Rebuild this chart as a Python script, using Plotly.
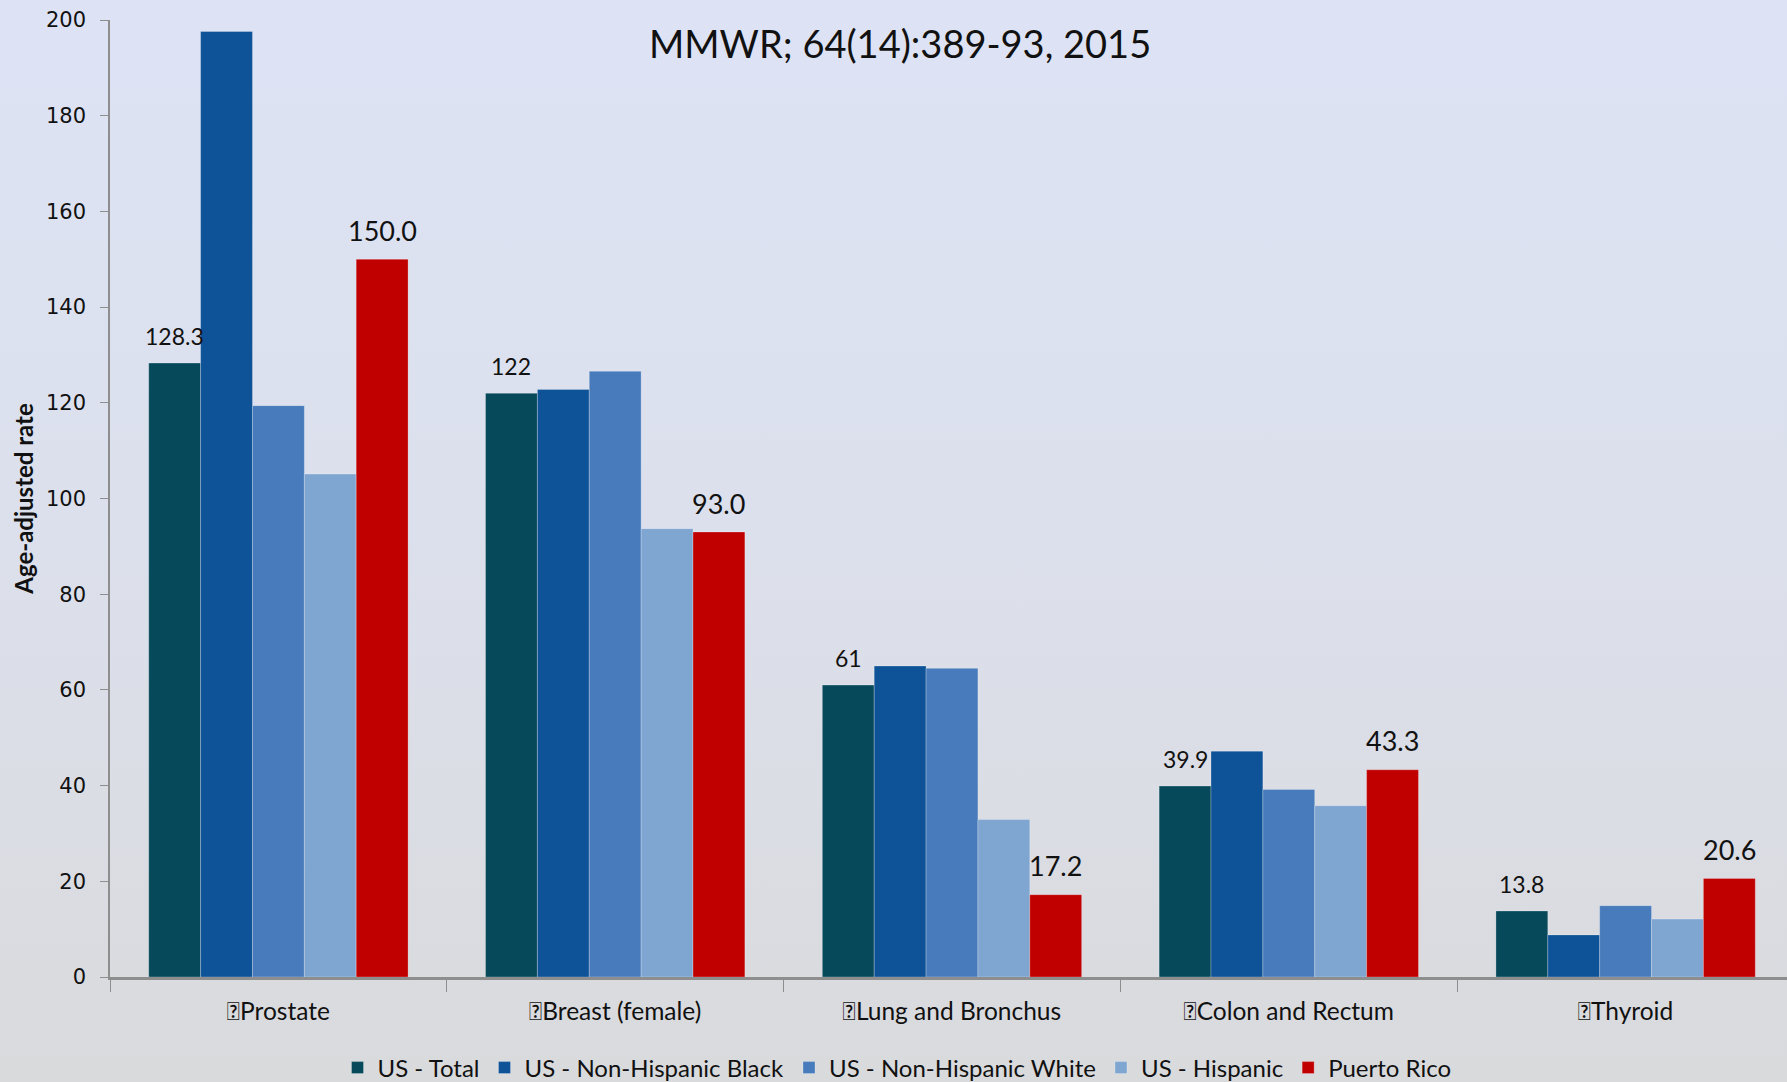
import base64
import plotly.graph_objects as go

# ---------------- data ----------------
categories = ["\uf0a7Prostate", "\uf0a7Breast (female)", "\uf0a7Lung and Bronchus",
              "\uf0a7Colon and Rectum", "\uf0a7Thyroid"]
us_total = [128.3, 122.0, 61.0, 39.9, 13.8]
us_nh_black = [197.6, 122.8, 65.0, 47.2, 8.8]
us_nh_white = [119.4, 126.6, 64.5, 39.2, 14.9]
us_hispanic = [105.1, 93.7, 32.9, 35.8, 12.1]
puerto_rico = [150.0, 93.0, 17.2, 43.3, 20.6]
total_labels = ["128.3", "122", "61", "39.9", "13.8"]
pr_labels = ["150.0", "93.0", "17.2", "43.3", "20.6"]
series_names = ["US - Total", "US - Non-Hispanic Black", "US - Non-Hispanic White",
                "US - Hispanic", "Puerto Rico"]
y_ticks = [0, 20, 40, 60, 80, 100, 120, 140, 160, 180, 200]
subtitle = "MMWR; 64(14):389-93, 2015"
y_title = "Age-adjusted rate"

# ---------------- style ----------------
W, H = 1787, 1082
ML, MR, MT, MB = 110, 0, 20, 105
colors = ["#05495A", "#0E5297", "#477BBB", "#7FA5D1", "#C00000"]
BASE_FONT = "Lato"
BARGAP = 0.23
NSER = 5

fig = go.Figure()
series = [us_total, us_nh_black, us_nh_white, us_hispanic, puerto_rico]
for i, (name, vals) in enumerate(zip(series_names, series)):
    fig.add_trace(go.Bar(
        x=categories, y=vals, name=name,
        marker=dict(color=colors[i], line=dict(color="rgba(255,255,255,0.25)", width=1)),
        hoverinfo="skip"))

# value labels above the US-Total and Puerto Rico bars
bw = (1 - BARGAP) / NSER
for k, vals, labels, size, shift in [(0, us_total, total_labels, 23, 27),
                                     (4, puerto_rico, pr_labels, 27, 29)]:
    for ci, (v, lab) in enumerate(zip(vals, labels)):
        fig.add_annotation(x=ci + (k - (NSER - 1) / 2) * bw, y=v, xref="x", yref="y",
                           text=lab, showarrow=False, xanchor="center", yanchor="middle",
                           yshift=shift, font=dict(family=BASE_FONT, size=size, color="#111111"))

# background gradient as SVG
svg = ('<svg xmlns="http://www.w3.org/2000/svg" width="100" height="100" preserveAspectRatio="none">'
       '<defs><linearGradient id="g" x1="0" y1="0" x2="0" y2="1">'
       '<stop offset="0" stop-color="#DDE3F5"/>'
       '<stop offset="0.5" stop-color="#DCE0EC"/>'
       '<stop offset="1" stop-color="#D9DADC"/>'
       '</linearGradient></defs>'
       '<rect width="100" height="100" fill="url(#g)"/></svg>')
src = "data:image/svg+xml;base64," + base64.b64encode(svg.encode()).decode()
pw, ph = W - ML - MR, H - MT - MB
fig.add_layout_image(dict(source=src, xref="paper", yref="paper",
                          x=-ML / pw, y=1 + MT / ph, sizex=W / pw, sizey=H / ph,
                          xanchor="left", yanchor="top", sizing="stretch", layer="below"))

fig.add_annotation(text=subtitle, xref="paper", yref="paper",
                   x=(900 - ML) / pw, y=1 + (MT - 43) / ph, showarrow=False,
                   xanchor="center", yanchor="middle",
                   font=dict(family=BASE_FONT, size=38, color="#111111"))

span = 336.8
fig.update_layout(
    width=W, height=H,
    margin=dict(l=ML, r=MR, t=MT, b=MB),
    paper_bgcolor="#DCDFE8", plot_bgcolor="rgba(0,0,0,0)",
    barmode="group", bargap=BARGAP, bargroupgap=0,
    font=dict(family=BASE_FONT, color="#111111"),
    showlegend=True,
    legend=dict(orientation="h", xref="container", yref="container",
                x=897 / W, xanchor="center",
                y=(H - 1068) / H, yanchor="middle",
                font=dict(family=BASE_FONT, size=24, color="#111111"),
                bgcolor="rgba(0,0,0,0)", itemwidth=30, tracegroupgap=0),
    xaxis=dict(type="category", range=[-0.5, -0.5 + pw / span],
               showline=True, linecolor="#8E8E8E", linewidth=2.5,
               ticks="outside", tickson="boundaries", ticklen=12, tickcolor="#8E8E8E",
               tickwidth=1.2, tickfont=dict(family=BASE_FONT, size=24.5, color="#111111"),
               ticklabelstandoff=11, showgrid=False, zeroline=False, automargin=False),
    yaxis=dict(range=[0, 200], tickvals=y_ticks, showline=True, linecolor="#8E8E8E",
               linewidth=1.5, ticks="outside", ticklen=8, tickcolor="#8E8E8E",
               tickfont=dict(family="DejaVu Sans", size=21, color="#111111"),
               ticklabelstandoff=10, automargin=False,
               showgrid=False, zeroline=False,
               title=dict(text="<b>" + y_title + "</b>", standoff=6,
                          font=dict(family=BASE_FONT, size=24, color="#111111"))),
)

fig.write_html("out.html", config={"displayModeBar": False},
               post_script="document.body.style.margin='0';document.body.style.overflow='hidden';")
